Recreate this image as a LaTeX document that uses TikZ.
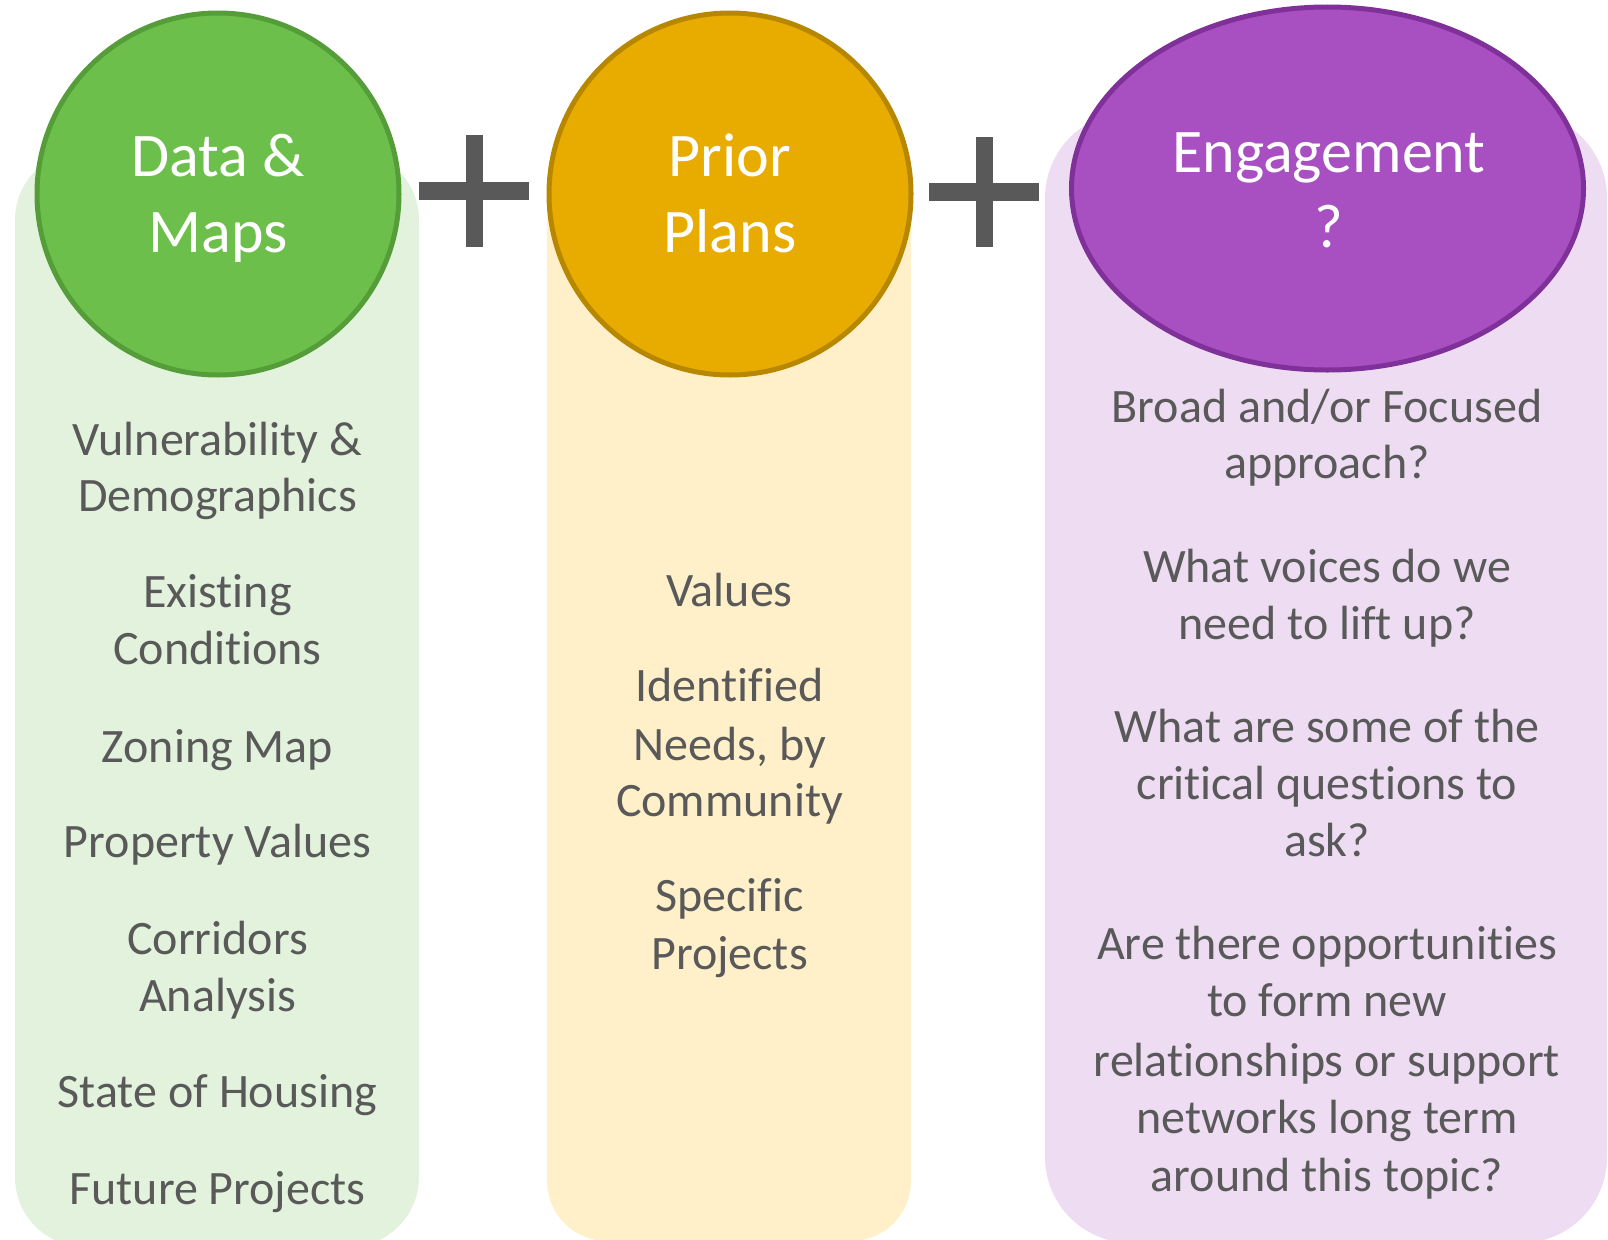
\documentclass[tikz,border=0pt]{standalone}
\usepackage{fontspec}
\setmainfont{Carlito}[RawFeature={-liga;-clig;-dlig;-calt;-rlig}]
\usetikzlibrary{shapes.geometric}
\definecolor{greenpanel}{HTML}{E2F2DC}
\definecolor{greenfill}{HTML}{6CBF4A}
\definecolor{greenline}{HTML}{559D39}
\definecolor{yellowpanel}{HTML}{FFF0C9}
\definecolor{yellowfill}{HTML}{E8AB00}
\definecolor{yellowline}{HTML}{B78700}
\definecolor{purplepanel}{HTML}{EDDCF2}
\definecolor{purplefill}{HTML}{A84FC1}
\definecolor{purpleline}{HTML}{7F3199}
\definecolor{txtgray}{HTML}{595959}
\begin{document}
\begin{tikzpicture}[x=1pt,y=-1pt,
  body/.style={anchor=base, text=txtgray, font=\fontsize{48}{57.6}\selectfont, inner sep=0pt},
  title/.style={anchor=base, text=white, font=\fontsize{62}{75}\selectfont, inner sep=0pt},
  bubble/.style={circle, line width=5pt, minimum size=362pt, inner sep=0pt},
  plusbar/.style={fill=txtgray}]
\clip (0,0) rectangle (1608,1239);
% panels
\fill[greenpanel, rounded corners=70pt] (15,150) rectangle (419,1247);
\fill[yellowpanel, rounded corners=60pt] (547,150) rectangle (911,1241);
\fill[purplepanel, rounded corners=86pt] (1045,112) rectangle (1607,1243);
% circles
\node[bubble, draw=greenline, fill=greenfill] (gc) at (218,194) {};
\node[bubble, draw=yellowline, fill=yellowfill] (yc) at (730,194) {};
\node[ellipse, line width=5pt, inner sep=0pt, minimum width=512pt, minimum height=363pt,
      draw=purpleline, fill=purplefill] (pc) at (1327.5,188.5) {};
% plus signs
\fill[plusbar] (418.5,181.7) rectangle (528.6,200);
\fill[plusbar] (466,135) rectangle (483,246.7);
\fill[plusbar] (928.6,182.7) rectangle (1039,200.7);
\fill[plusbar] (975.7,136.7) rectangle (992.9,247.3);
% titles
\node[title] (t1a) at (218,176) {Data \&};
\node[title] (t1b) at (218,252) {Maps};
\node[title] (t2a) at (730,176) {Prior};
\node[title] (t2b) at (730,252) {Plans};
\node[title] (t3a) at (1329,172.3) {Engagement};
\node[title] (t3b) at (1329,247.3) {?};
% green column
\node[body] (g1a) at (217.5,455.5) {Vulnerability \&};
\node[body] (g1b) at (217.5,511) {Demographics};
\node[body] (g2a) at (217.5,607.2) {Existing};
\node[body] (g2b) at (217.5,664.7) {Conditions};
\node[body] (g3) at (217.5,762) {Zoning Map};
\node[body] (g4) at (217.5,857.5) {Property Values};
\node[body] (g5a) at (217.5,954) {Corridors};
\node[body] (g5b) at (217.5,1011.3) {Analysis};
\node[body] (g6) at (217.5,1107.7) {State of Housing};
\node[body] (g7) at (217.5,1204) {Future Projects};
% yellow column
\node[body] (y1) at (729.5,606.2) {Values};
\node[body] (y2a) at (729.5,701.6) {Identified};
\node[body] (y2b) at (729.5,760) {Needs, by};
\node[body] (y2c) at (729.5,816.4) {Community};
\node[body] (y3a) at (729.5,911.8) {Specific};
\node[body] (y3b) at (729.5,969.2) {Projects};
% purple column
\node[body] (p1a) at (1327,422.7) {Broad and/or Focused};
\node[body] (p1b) at (1327,478.3) {approach?};
\node[body] (p2a) at (1327,582.6) {What voices do we};
\node[body] (p2b) at (1327,639) {need to lift up?};
\node[body] (p3a) at (1327,742.6) {What are some of the};
\node[body] (p3b) at (1327,799) {critical questions to};
\node[body] (p3c) at (1327,856.4) {ask?};
\node[body] (p4a) at (1327,959) {Are there opportunities};
\node[body] (p4b) at (1327,1016.4) {to form new};
\node[body] (p4c) at (1327,1076.7) {relationships or support};
\node[body] (p4d) at (1327,1133.3) {networks long term};
\node[body] (p4e) at (1327,1191.7) {around this topic?};
\end{tikzpicture}
\end{document}
